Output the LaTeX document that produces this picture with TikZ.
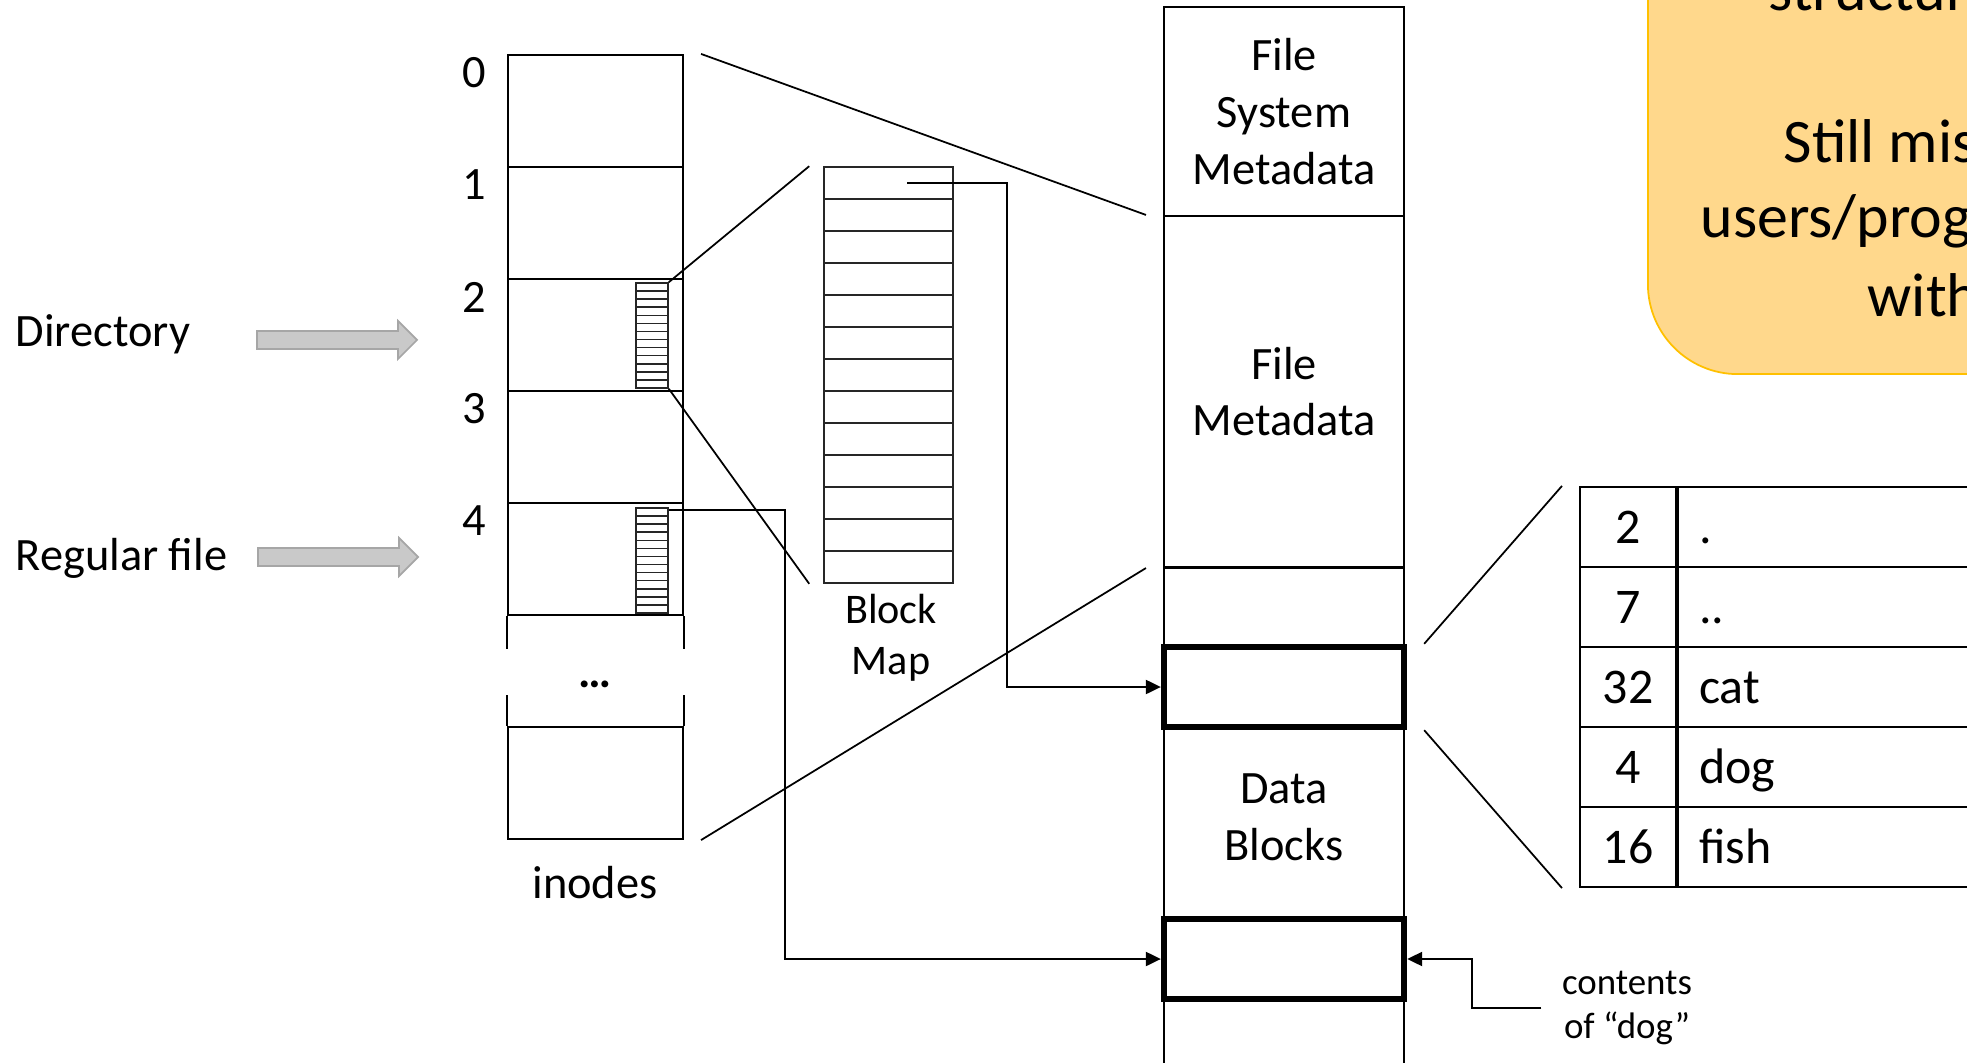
\documentclass[tikz,border=0pt]{standalone}
\usepackage{fontspec}
\setmainfont{Carlito}
\usetikzlibrary{arrows.meta, positioning, calc}

\definecolor{calloutfill}{HTML}{FFD88C}
\definecolor{calloutline}{HTML}{FFC000}
\newcommand{\grayarrow}[1]{\filldraw[fatarrow] (#1) ++(0,0.09) -- ++(1.41,0) -- ++(0,0.1) -- ++(0.19,-0.19) -- ++(-0.19,-0.19) -- ++(0,0.1) -- ++(-1.41,0) -- cycle;}

\begin{document}
\begin{tikzpicture}[
        inode/.style={rectangle, draw=black, line width=0.6pt, minimum width=1.75cm, minimum height=1.12cm, inner sep=0pt},
        mapstack/.style={rectangle, draw=black!85, line width=0.45pt, inner sep=0pt, path picture={\foreach \k in {1,...,12} \draw[black!85, line width=0.45pt] ($(path picture bounding box.north west)!\k/13!(path picture bounding box.south west)$) -- ($(path picture bounding box.north east)!\k/13!(path picture bounding box.south east)$);}},
        region/.style={rectangle, draw=black, line width=0.6pt, minimum width=2.4cm, inner sep=0pt, align=center, font=\fontsize{13.2}{16.1}\selectfont},
        hot/.style={rectangle, draw=black, line width=1.8pt, minimum width=2.4cm, minimum height=0.8cm, inner sep=0pt},
        numcell/.style={rectangle, draw=black, line width=0.6pt, minimum width=0.96cm, minimum height=0.8cm, text height=0.4cm, text depth=0.08cm, inner sep=0pt, font=\fontsize{14.2}{17}\selectfont},
        namecell/.style={numcell, text width=3.18cm, align=left, inner xsep=0.21cm},
        tag/.style={font=\fontsize{13.2}{16.1}\selectfont, inner sep=0pt},
        bigtext/.style={font=\fontsize{17.6}{21.5}\selectfont, inner sep=0pt, anchor=base west},
        callout/.style={rectangle, rounded corners=0.9cm, fill=calloutfill, draw=calloutline, line width=0.5pt},
        fatarrow/.style={fill=black!21, draw=black!35, line width=0.5pt},
        arrow/.style={-{Triangle[length=0.15cm, width=0.14cm]}, line width=0.6pt},
        zoomline/.style={line width=0.5pt}
    ]
        \useasboundingbox (0,0) rectangle (19.67,-10.63);
        \clip (0,0) rectangle (19.67,-10.63);

        \foreach \i in {0,...,4} {
            \node[inode] (ino\i) at (5.955,-1.11-1.12*\i) {};
            \node[tag] (num\i) at (4.74,-0.73-1.12*\i) {\i};
        }
        \node[inode] (inolast) at (5.955,-7.83) {};
        \draw[line width=0.6pt] (ino4.south west) -- ++(0,-0.33) (ino4.south east) -- ++(0,-0.33);
        \draw[line width=0.6pt] (inolast.north west) -- ++(0,0.31) (inolast.north east) -- ++(0,0.31);
        \node[tag] (dots) at (5.95,-6.84) {\textbf{…}};
        \node[tag] (inolabel) at (5.95,-8.83) {inodes};

        \node[mapstack, minimum width=0.32cm, minimum height=1.05cm] (map2) at (6.52,-3.355) {};
        \node[mapstack, minimum width=0.32cm, minimum height=1.05cm] (map4) at (6.52,-5.605) {};
        \node[mapstack, minimum width=1.29cm, minimum height=4.16cm] (blockmap) at (8.885,-3.75) {};
        \node[tag, font=\fontsize{12}{14.6}\selectfont, align=center] (maplabel) at (8.91,-6.38) {Block\\Map};

        \node[tag, anchor=base west] (dirtag) at (0.15,-3.47) {Directory};
        \node[tag, anchor=base west] (regtag) at (0.15,-5.70) {Regular file};
        \grayarrow{2.57,-3.40}
        \grayarrow{2.58,-5.57}

        \node[region, minimum height=2.09cm] (fsmeta) at (12.84,-1.115) {File\\System\\Metadata};
        \node[region, minimum height=3.51cm] (fmeta) at (12.84,-3.915) {File\\Metadata};
        \node[region, minimum height=5.4cm, anchor=north] (datazone) at (12.84,-5.67) {};
        \node[tag, align=center] (datalabel) at (12.84,-8.17) {Data\\Blocks};
        \node[hot] (dirblock) at (12.84,-6.87) {};
        \node[hot] (dogblock) at (12.84,-9.59) {};

        \foreach \num/\name [count=\i from 0] in {2/{.}, 7/{..}, 32/cat, 4/dog, 16/fish} {
            \node[numcell] (slot\i) at (16.28,-5.27-0.8*\i) {\num};
            \node[namecell, right=0pt of slot\i] (entry\i) {\name};
        }

        \node[callout, anchor=south west, minimum width=5cm, minimum height=5cm] (idea) at (16.47,-3.75) {};
        \node[bigtext] (idea1) at (17.68,-0.11) {structur};
        \node[bigtext] (idea2) at (17.83,-1.63) {Still mis};
        \node[bigtext] (idea3) at (17.00,-2.38) {users/prog};
        \node[bigtext] (idea4) at (18.67,-3.17) {with};

        \node[tag, font=\fontsize{10.5}{12.8}\selectfont, align=center, inner sep=0.2cm] (dognote) at (16.27,-10.08) {contents\\of “dog”};

        \draw[zoomline] ($(ino0.north east)+(0.17,0)$) -- ($(fmeta.north west)+(-0.17,0)$);
        \draw[zoomline] ($(inolast.south east)+(0.17,0)$) -- ($(fmeta.south west)+(-0.17,0)$);
        \draw[zoomline] (map2.north east) -- ($(blockmap.north west)+(-0.14,0)$);
        \draw[zoomline] (map2.south east) -- ($(blockmap.south west)+(-0.14,0)$);
        \draw[zoomline] ($(dirblock.north east)+(0.17,0)$) -- ($(slot0.north west)+(-0.17,0)$);
        \draw[zoomline] ($(dirblock.south east)+(0.17,0)$) -- ($(slot4.south west)+(-0.17,0)$);

        \coordinate (bmentry) at (9.07,-1.83);
        \draw[arrow] (bmentry) -- ++(1.0,0) |- (dirblock.west);
        \draw[arrow] ($(map4.north east)+(0,-0.03)$) -- ++(1.16,0) |- (dogblock.west);
        \draw[arrow] (dognote.west) -- ++(-0.69,0) |- (dogblock.east);
    \end{tikzpicture}
\end{document}
